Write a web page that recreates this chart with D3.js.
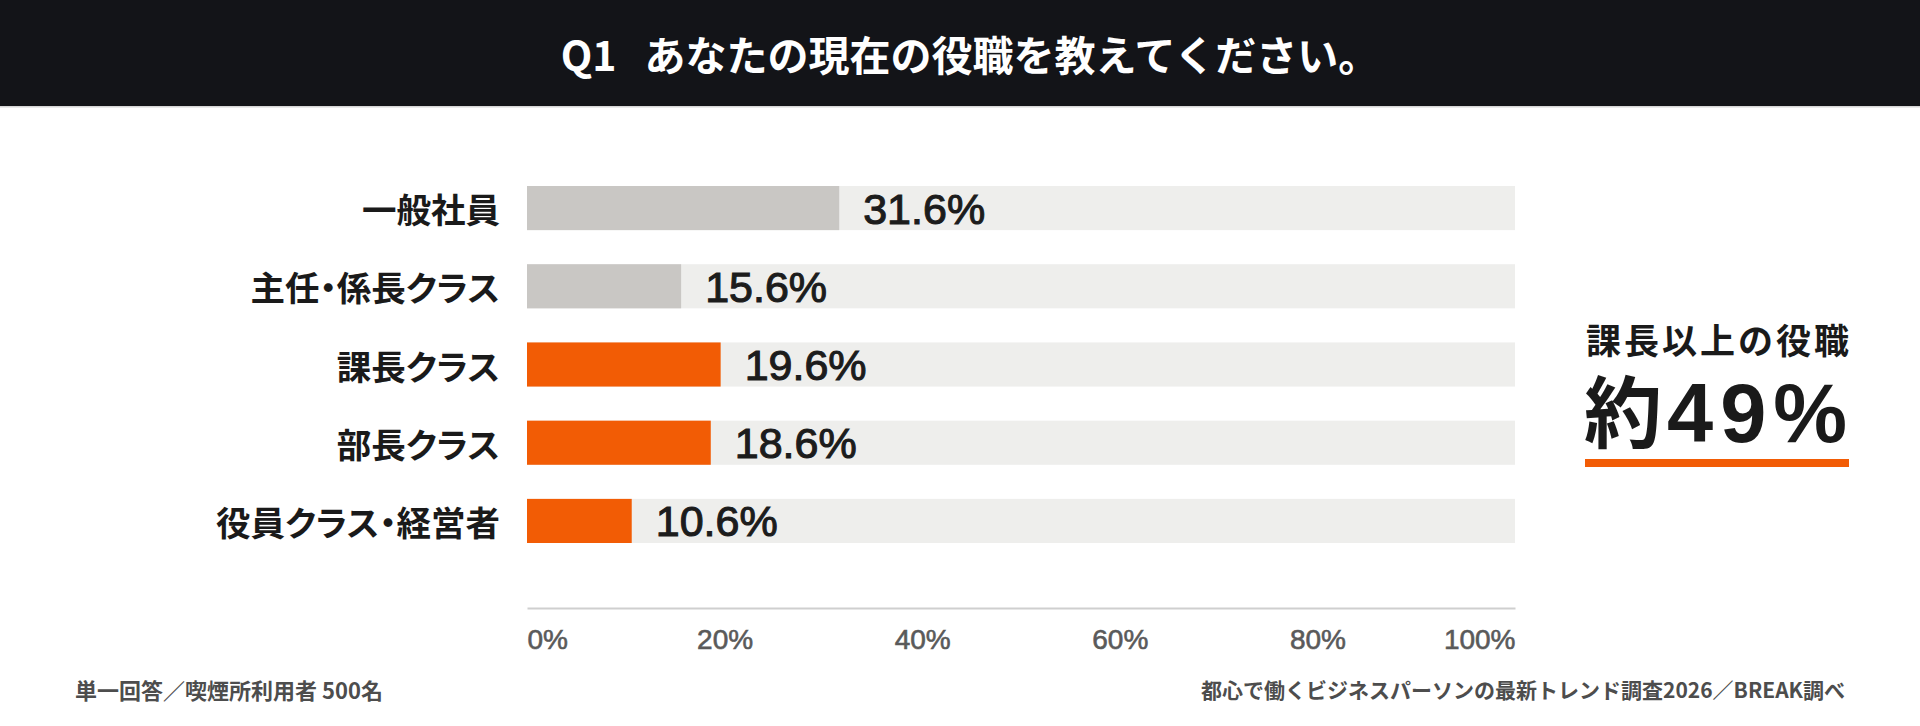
<!DOCTYPE html>
<html>
<head>
<meta charset="utf-8">
<script src="https://cdn.jsdelivr.net/npm/d3@7"></script>
<style>
  html, body { margin: 0; padding: 0; background: #fff; }
  svg { display: block; }
  .jp { font-family: "Noto Sans CJK JP", "Noto Sans", sans-serif; font-weight: 700; }
  .num { font-family: "Liberation Sans", Arial, sans-serif; }
  .cat { font-feature-settings: "palt"; }
</style>
</head>
<body>
<div id="chart"></div>
<script>
// data
const categories = ["一般社員", "主任・係長クラス", "課長クラス", "部長クラス", "役員クラス・経営者"];
const values = [31.6, 15.6, 19.6, 18.6, 10.6];
const highlighted = ["課長クラス", "部長クラス", "役員クラス・経営者"];
const ticks = [0, 20, 40, 60, 80, 100];

const title = "あなたの現在の役職を教えてください。";
const calloutLabel = "課長以上の役職";
const calloutValue = "49%";
const noteLeft = "単一回答／喫煙所利用者 500名";
const noteRight = "都心で働くビジネスパーソンの最新トレンド調査2026／BREAK調べ";

const W = 1920, H = 726;
const ORANGE = "#f25c05";

const svg = d3.select("#chart").append("svg")
    .attr("width", W)
    .attr("height", H);

// header band
svg.append("rect")
    .attr("width", W).attr("height", 106)
    .attr("fill", "#131418");
svg.append("rect")
    .attr("y", 106).attr("width", W).attr("height", 1.5)
    .attr("fill", "#d6d6d6");

let titleText = svg.append("text")
    .attr("class", "jp")
    .attr("x", W / 2 + 10)
    .attr("y", 53)
    .attr("text-anchor", "middle")
    .attr("dominant-baseline", "central")
    .attr("fill", "#fff")
    .attr("font-size", 41);
titleText.append("tspan").text("Q1");
titleText.append("tspan").attr("dx", 28).text(title);

// scales
const x = d3.scaleLinear().domain([0, 100]).range([527, 1515]);
const y = d3.scaleBand().domain(categories).range([186, 543]).paddingInner(0.436).paddingOuter(0);

const rows = categories.map((c, i) => ({ cat: c, value: values[i], hi: highlighted.includes(c) }));

let plot = svg.append("g").attr("class", "bars");

// background tracks
plot.selectAll("rect.track").data(rows).join("rect")
    .attr("class", "track")
    .attr("x", x(0))
    .attr("y", d => y(d.cat))
    .attr("width", x(100) - x(0))
    .attr("height", y.bandwidth())
    .attr("fill", "#eeeeec");

plot.selectAll("rect.bar").data(rows).join("rect")
    .attr("class", "bar")
    .attr("x", x(0))
    .attr("y", d => y(d.cat))
    .attr("width", d => x(d.value) - x(0))
    .attr("height", y.bandwidth())
    .attr("fill", d => d.hi ? ORANGE : "#c9c7c4");

// category labels
plot.selectAll("text.cat").data(rows).join("text")
    .attr("class", "cat jp")
    .attr("x", x(0) - 27)
    .attr("y", d => y(d.cat) + y.bandwidth() / 2)
    .attr("text-anchor", "end")
    .attr("dominant-baseline", "central")
    .attr("font-size", 34.5)
    .attr("fill", "#1a1a1a")
    .text(d => d.cat);

// value labels
plot.selectAll("text.val").data(rows).join("text")
    .attr("class", "val num")
    .attr("x", d => x(d.value) + 24)
    .attr("y", d => y(d.cat) + y.bandwidth() / 2 + 15.5)
    .attr("font-size", 43)
    .attr("fill", "#1c1c1c")
    .attr("stroke", "#1c1c1c")
    .attr("stroke-width", 1.1)
    .text(d => d.value.toFixed(1) + "%");

// x axis
const axis = svg.append("g")
    .attr("transform", "translate(0,608)")
    .call(d3.axisBottom(x).tickValues(ticks).tickSize(0).tickPadding(0).tickFormat(d => d + "%"));
axis.select(".domain").attr("stroke", "#cfcfcf").attr("stroke-width", 2);
axis.selectAll(".tick text")
    .attr("class", "num")
    .attr("y", 41)
    .attr("dy", null)
    .attr("font-size", 28)
    .attr("fill", "#5a5a5a")
    .attr("stroke", "#5a5a5a")
    .attr("stroke-width", 0.6)
    .attr("text-anchor", d => d === 0 ? "start" : d === 100 ? "end" : "middle");

// callout on the right
const cx = 1586;
svg.append("text")
    .attr("class", "jp")
    .attr("x", cx)
    .attr("y", 338)
    .attr("dominant-baseline", "central")
    .attr("font-size", 35)
    .attr("letter-spacing", 3)
    .attr("fill", "#1a1a1a")
    .text(calloutLabel);

let big = svg.append("text")
    .attr("x", cx - 2)
    .attr("y", 442)
    .attr("fill", "#1a1a1a");
big.append("tspan")
    .attr("class", "jp")
    .attr("font-size", 78)
    .text("約");
big.append("tspan")
    .attr("class", "num")
    .attr("font-weight", 700)
    .attr("font-size", 83)
    .attr("dx", 5)
    .attr("letter-spacing", 7)
    .text(calloutValue);

svg.append("rect")
    .attr("x", 1585).attr("y", 459)
    .attr("width", 264).attr("height", 8)
    .attr("fill", ORANGE);

// footnotes
svg.append("text")
    .attr("class", "jp")
    .attr("x", 75)
    .attr("y", 689)
    .attr("dominant-baseline", "central")
    .attr("font-size", 22)
    .attr("fill", "#4d4d4d")
    .text(noteLeft);

svg.append("text")
    .attr("class", "jp")
    .attr("x", 1845)
    .attr("y", 689)
    .attr("text-anchor", "end")
    .attr("dominant-baseline", "central")
    .attr("font-size", 21)
    .attr("fill", "#4d4d4d")
    .text(noteRight);
</script>
</body>
</html>
